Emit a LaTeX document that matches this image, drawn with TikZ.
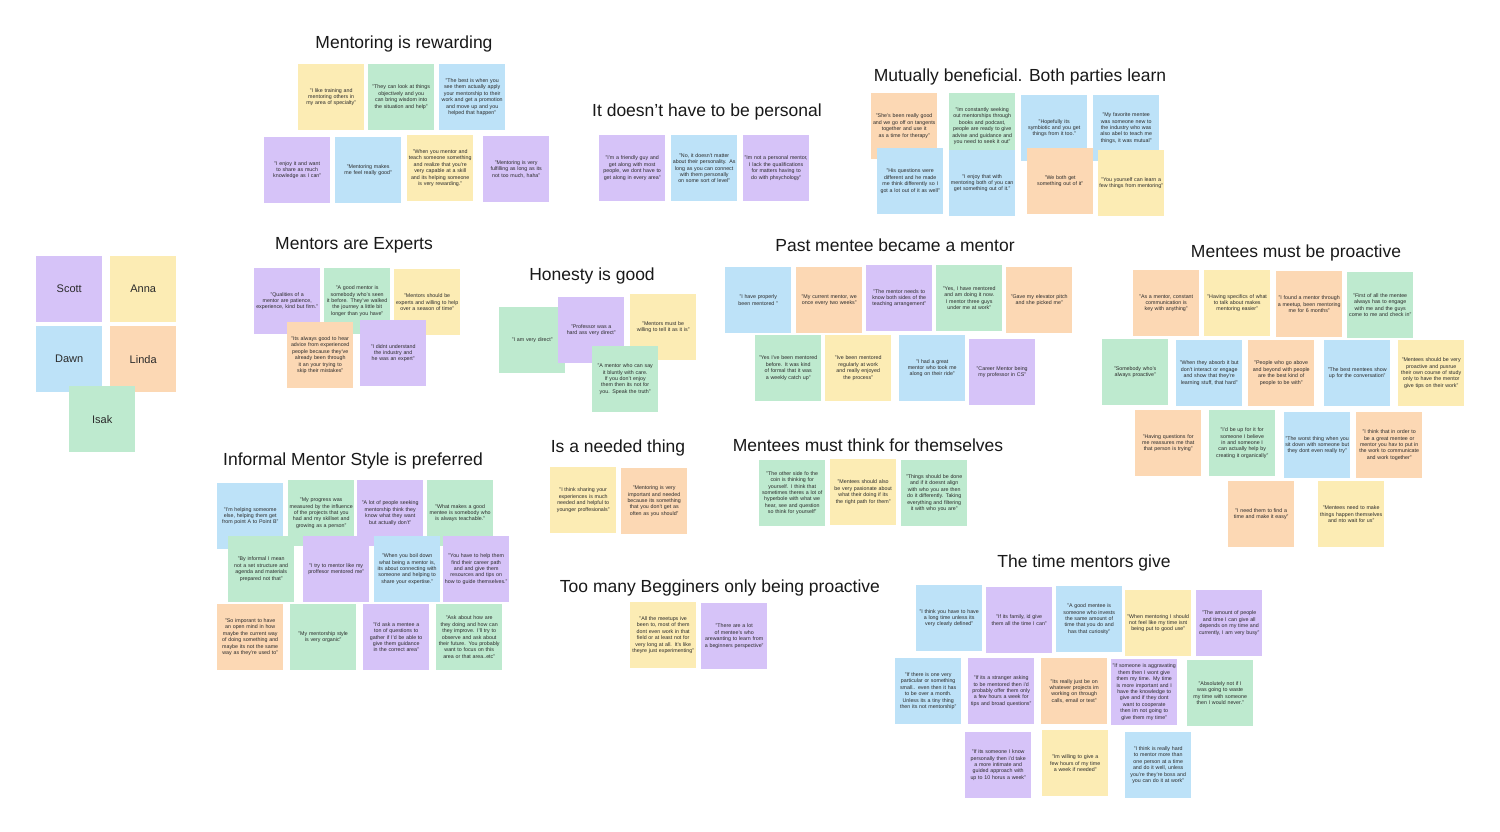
\documentclass[tikz,border=0pt]{standalone}
\usepackage{fontspec}
\setmainfont{Liberation Sans}
\definecolor{sy}{HTML}{FCECB4}
\definecolor{sg}{HTML}{BEEACF}
\definecolor{sb}{HTML}{BDE2F8}
\definecolor{sp}{HTML}{D6C3F8}
\definecolor{so}{HTML}{FCD8B4}
\definecolor{ink}{HTML}{2A2A2A}
\newcommand\nohyph{\hyphenpenalty=10000\relax\exhyphenpenalty=10000\relax}
\tikzset{
  sticky/.style={anchor=north west, minimum width=66pt, minimum height=66pt, inner sep=0pt,
    text width=64pt, align=center,
    font=\fontsize{5.3}{6.4}\selectfont\nohyph, text=ink},
  grouptitle/.style={font=\fontsize{17.5}{20}\selectfont, text=black!90, inner sep=0pt},
  person/.style={anchor=north west, minimum width=66pt, minimum height=66pt, inner sep=0pt,
    font=\fontsize{11}{13}\selectfont, text=ink}
}
\newcommand\stk[5]{\node[sticky, fill=#2] (#1) at (#3,#4) {#5};}
\newcommand\ppl[5]{\node[person, fill=#2] (#1) at (#3,#4) {#5};}
\begin{document}
\begin{tikzpicture}[x=1pt,y=-1pt]
\fill[white] (0,0) rectangle (1500,832);
\useasboundingbox (0,0) rectangle (1500,832);

% people
\ppl{scott}{sp}{36}{256}{Scott}
\ppl{anna}{sy}{110}{256}{Anna}
\ppl{dawn}{sb}{36}{326}{Dawn}
\ppl{linda}{so}{110}{326}{Linda}
\ppl{isak}{sg}{69}{386}{Isak}

% Mentoring is rewarding
\node[grouptitle] (t1) at (404,44) {Mentoring is rewarding};
\stk{a1}{sy}{298}{64}{"I like training and mentoring others in my area of specialty"}
\stk{a2}{sg}{368}{64}{"They can look at things objectively and you can bring wisdom into the situation and help"}
\stk{a3}{sb}{439}{64}{"The best is when you see them actually apply your mentorship to their work and get a promotion and move up and you helped that happen"}
\stk{a4}{sp}{264}{137}{"I enjoy it and want to share as much knowledge as I can"}
\stk{a5}{sb}{335}{137}{"Mentoring makes me feel really good"}
\stk{a6}{sy}{407}{135}{"When you mentor and teach someone something and realize that you're very capable at a skill and its helping someone is very rewarding."}
\stk{a7}{sp}{483}{136}{"Mentoring is very fulfilling as long as its not too much, haha"}

% It doesn't have to be personal
\node[grouptitle] (t2) at (707,112) {It doesn't have to be personal};
\stk{b1}{sp}{599}{135}{"I'm a friendly guy and get along with most people, we dont have to get along in every area"}
\stk{b2}{sb}{671}{135}{"No, it doesn't matter about their personality. As long as you can connect with them personally on some sort of level"}
\stk{b3}{sp}{743}{135}{"Im not a personal mentor, I lack the qualifications for matters having to do with phsychology"}

% Mutually beneficial
\node[grouptitle] (t3) at (1020,77) {Mutually beneficial. Both parties learn};
\stk{c1}{so}{871}{93}{"She's been really good and we go off on tangents together and use it as a time for therapy"}
\stk{c2}{sg}{949}{93}{"Im constantly seeking out mentorships through books and podcast, people are ready to give advise and guidance and you need to seek it out"}
\stk{c3}{sb}{1021}{95}{"Hopefully its symbiotic and you get things from it too."}
\stk{c4}{sb}{1093}{95}{"My favorite mentee was someone new to the industry who was also abel to teach me things, it was mutual"}
\stk{c5}{sb}{877}{148}{"His questions were different and he made me think differently so I got a lot out of it as well"}
\stk{c6}{sb}{949}{150}{"I enjoy that with mentoring both of you can get something out of it."}
\stk{c7}{so}{1027}{148}{"We both get something out of it"}
\stk{c8}{sy}{1098}{150}{"You yourself can learn a few things from mentoring"}

% Mentors are Experts
\node[grouptitle] (t4) at (354,245) {Mentors are Experts};
\stk{d1}{sp}{254}{268}{"Qualities of a mentor are patience, experience, kind but firm."}
\stk{d2}{sg}{324}{268}{"A good mentor is somebody who's seen it before. They've walked the journey a little bit longer than you have"}
\stk{d3}{sy}{394}{269}{"Mentors should be experts and willing to help over a season of time"}
\stk{d4}{so}{287}{322}{"Its always good to hear advice from experienced people because they've already been through it an your trying to skip their mistakes"}
\stk{d5}{sp}{360}{320}{"I didnt understand the industry and he was an expert"}

% Honesty is good
\node[grouptitle] (t5) at (592,276) {Honesty is good};
\stk{e1}{sg}{499}{307}{"I am very direct"}
\stk{e3}{sy}{630}{294}{"Mentors must be willing to tell it as it is"}
\stk{e2}{sp}{558}{297}{"Professor was a hard ass very direct"}
\stk{e4}{sg}{592}{346}{"A mentor who can say it bluntly with care. If you don't enjoy them then its not for you. Speak the truth"}

% Past mentee became a mentor
\node[grouptitle] (t6) at (895,245) {Past mentee became a mentor};
\stk{f1}{sb}{725}{267}{"I have properly been mentored "}
\stk{f2}{so}{796}{267}{"My current mentor, we once every two weeks"}
\stk{f3}{sp}{866}{265}{"The mentor needs to know both sides of the teaching arrangement"}
\stk{f4}{sg}{936}{265}{"Yes, I have mentored and am doing it now. I mentor three guys under me at work"}
\stk{f5}{so}{1006}{267}{"Gave my elevator pitch and she picked me"}
\stk{f6}{sg}{755}{335}{"Yes I've been mentored before. It was kind of formal that it was a weekly catch up"}
\stk{f7}{sy}{825}{335}{"Ive been mentored regularly at work and really enjoyed the process"}
\stk{f8}{sb}{899}{335}{"I had a great mentor who took me along on their ride"}
\stk{f9}{sp}{969}{339}{"Career Mentor being my professor in CS"}

% Mentees must be proactive
\node[grouptitle] (t7) at (1296,253) {Mentees must be proactive};
\stk{g1}{so}{1133}{270}{"As a mentor, constant communication is key with anything"}
\stk{g2}{sy}{1204}{270}{"Having specifics of what to talk about makes mentoring easier"}
\stk{g3}{so}{1276}{271}{"I found a mentor through a meetup, been mentoring me for 6 months"}
\stk{g4}{sg}{1347}{272}{"First of all the mentee always has to engage with me and the guys come to me and check in"}
\stk{g5}{sg}{1102}{339}{"Somebody who's always proactive"}
\stk{g6}{sb}{1176}{340}{"When they absorb it but don't interact or engage and show that they're learning stuff, that hard"}
\stk{g7}{so}{1248}{340}{"People who go above and beyond with people are the best kind of people to be with"}
\stk{g8}{sb}{1324}{340}{"The best mentees show up for the conversation"}
\stk{g9}{sy}{1398}{340}{"Mentees should be very proactive and pusrue their own course of study only to have the mentor give tips on their work"}
\stk{g10}{so}{1135}{410}{"Having questions for me reassures me that that person is trying"}
\stk{g11}{sg}{1209}{410}{"I'd be up for it for someone I believe in and someone I can actually help by creating it organically"}
\stk{g12}{sb}{1284}{412}{"The worst thing when you sit down with someone but they dont even really try"}
\stk{g13}{so}{1356}{412}{"I think that in order to be a great mentee or mentor you hav to put in the work to communicate and work together"}
\stk{g14}{so}{1228}{481}{"I need them to find a time and make it easy"}
\stk{g15}{sy}{1318}{481}{"Mentees need to make things happen themselves and nto wait for us"}

% Informal Mentor Style is preferred
\node[grouptitle] (t8) at (353,461) {Informal Mentor Style is preferred};
\stk{h1}{sb}{217}{483}{"I'm helping someome else, helping them get from point A to Point B"}
\stk{h2}{sg}{288}{480}{"My progress was measured by the influence of the projects that you had and my skillset and growing as a person"}
\stk{h3}{sp}{357}{480}{"A lot of people seeking mentorship think they know what they want but actually don't"}
\stk{h4}{sg}{427}{480}{"What makes a good mentee is somebody who is always teachable."}
\stk{h5}{sg}{228}{536}{"By informal I mean not a set structure and agenda and materials prepared not that"}
\stk{h6}{sp}{303}{536}{"I try to mentor like my proffesor mentored me"}
\stk{h7}{sb}{374}{536}{"When you boil down what being a mentor is, its about connecting with someone and helping to share your expertise."}
\stk{h8}{sp}{443}{536}{"You have to help them find their career path and and give them resources and tips on how to guide themselves."}
\stk{h9}{so}{217}{604}{"So imporant to have an open mind in how maybe the current way of doing something and maybe its not the same way as they're used to"}
\stk{h10}{sg}{290}{604}{"My mentorship style is very organic"}
\stk{h11}{sp}{363}{604}{"I'd ask a mentee a ton of questions to gather if I'd be able to give them guidance in the correct area"}
\stk{h12}{sg}{436}{604}{"Ask about how are they doing and how can they improve. I'll try to observe and ask about their future. You probably want to focus on this area or that area..etc"}

% Is a needed thing
\node[grouptitle] (t9) at (618,448) {Is a needed thing};
\stk{i1}{sy}{550}{467}{"I think sharing your experiences is much needed and helpful to younger proffesionals"}
\stk{i2}{so}{621}{468}{"Mentoring is very important and needed because its something that you don't get as often as you should"}

% Too many Begginers
\node[grouptitle] (t10) at (720,588) {Too many Begginers only being proactive};
\stk{j1}{sy}{630}{602}{"All the meetups ive been to, most of them dont even work in that field or at least not for very long at all. It's like theyre just experimenting"}
\stk{j2}{sp}{701}{603}{"There are a lot of mentee's who arewanting to learn from a beginners perspective"}

% Mentees must think for themselves
\node[grouptitle] (t11) at (868,445) {Mentees must think for themselves};
\stk{k1}{sg}{759}{460}{"The other side fo the coin is thinking for yourself. I think that sometimes theres a lot of hyperbole with what we hear, see and question so think for yourself"}
\stk{k2}{sy}{830}{459}{"Mentees should also be very pasionate about what their doing if its the right path for them"}
\stk{k3}{sg}{901}{460}{"Things should be done and if it doesnt align with who you are then do it differently. Taking everything and filtering it with who you are"}

% The time mentors give
\node[grouptitle] (t12) at (1084,563) {The time mentors give};
\stk{m1}{sb}{916}{585}{"I think you have to have a long time unless its very clearly defined"}
\stk{m2}{sp}{986}{587}{"If its family, id give them all the time I can"}
\stk{m3}{sb}{1056}{586}{"A good mentee is someone who invests the same amount of time that you do and has that curiosity"}
\stk{m4}{sy}{1125}{590}{"When mentoring I should not feel like my time isnt being put to good use"}
\stk{m5}{sp}{1196}{590}{"The amount of people and time I can give all depends on my time and currently, I am very busy"}
\stk{m6}{sb}{895}{658}{"If there is one very particular or something small.. even then it has to be over a month. Unless its a tiny thing then its not mentorship"}
\stk{m7}{sp}{968}{658}{"If its a stranger asking to be mentored then i'd probably offer them only a few hours a week for tips and broad questions"}
\stk{m8}{so}{1041}{658}{"Its really just be on whatever projects im working on through calls, email or text"}
\stk{m9}{sp}{1111}{659}{"If someone is aggravating them then I wont give them my time. My time is more important and I have the knowledge to give and if they dont want to cooperate then im not going to give them my time"}
\stk{m10}{sg}{1187}{660}{"Absolutely not if I was going to waste my time with someone then I would never."}
\stk{m11}{sp}{965}{732}{"If its someone I know personally then i'd take a more intimate and guided approach with up to 10 horus a week"}
\stk{m12}{sy}{1042}{730}{"Im willing to give a few hours of my time a week if needed"}
\stk{m13}{sb}{1125}{732}{"I think is really hard to mentor more than one person at a time and do it well, unless you're they're boss and you can do it at work"}
\end{tikzpicture}
\end{document}
